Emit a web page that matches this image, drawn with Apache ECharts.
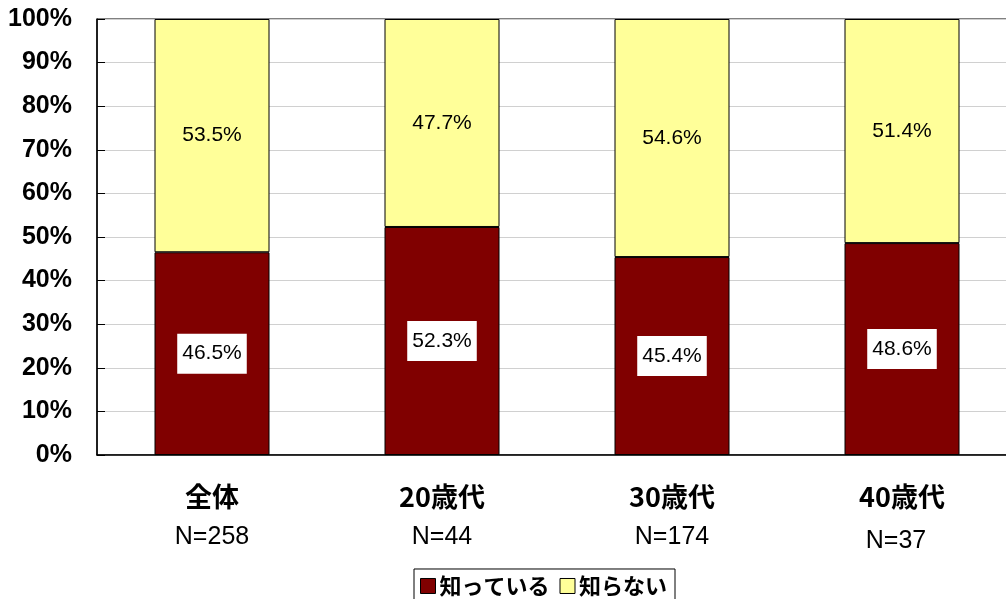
<!DOCTYPE html>
<html>
<head>
<meta charset="utf-8">
<script src="https://cdn.jsdelivr.net/npm/echarts@6/dist/echarts.min.js"></script>
<style>html,body{margin:0;padding:0;background:#fff;}#c{width:1006px;height:599px;}</style>
</head>
<body>
<div id="c"></div>
<script>
const categories = ['全体', '20歳代', '30歳代', '40歳代'];
const sampleSizes = ['N=258', 'N=44', 'N=174', 'N=37'];
const knownValues = [46.5, 52.3, 45.4, 48.6];
const unknownValues = [53.5, 47.7, 54.6, 51.4];
const seriesNames = ['知っている', '知らない'];

const chart = echarts.init(document.getElementById('c'));
const labelFont = '"Liberation Sans", Arial, sans-serif';
const jpFont = '"Noto Sans CJK JP", "Liberation Sans", sans-serif';
chart.setOption({
  animation: false,
  backgroundColor: '#fff',
  grid: { left: 97, top: 19, width: 920, height: 436, outerBoundsMode: 'none', containLabel: false, show: true, borderColor: '#000', borderWidth: 1 },
  legend: {
    bottom: -12, left: 414,
    icon: 'rect',
    itemWidth: 15, itemHeight: 15, itemGap: 10,
    padding: [6, 8, 14, 6],
    borderColor: '#000', borderWidth: 1,
    textStyle: { fontFamily: jpFont, fontWeight: 'bold', fontSize: 22, color: '#000', padding: [0, 0, 0, -1] },
    data: [
      { name: seriesNames[0], itemStyle: { color: '#800000', borderColor: '#000', borderWidth: 1 } },
      { name: seriesNames[1], itemStyle: { color: '#FFFF99', borderColor: '#000', borderWidth: 1 } }
    ]
  },
  xAxis: {
    type: 'category',
    data: categories,
    axisLine: { lineStyle: { color: '#000', width: 1.5 } },
    axisTick: { inside: true, length: 7, lineStyle: { color: '#555' } },
    axisLabel: {
      margin: 21,
      formatter: (v, i) => '{a|' + v + '}\n{' + (i === 3 ? 'c' : 'b') + '|' + sampleSizes[i] + '}',
      rich: {
        a: { fontFamily: jpFont, fontWeight: 'bold', fontSize: 27, lineHeight: 41, color: '#000' },
        b: { fontFamily: '"Liberation Sans", Arial, sans-serif', fontSize: 25, lineHeight: 41, color: '#000' },
        c: { fontFamily: '"Liberation Sans", Arial, sans-serif', fontSize: 25, lineHeight: 41, color: '#000', padding: [8, 12, 0, 0] }
      }
    }
  },
  yAxis: {
    type: 'value', min: 0, max: 100, interval: 10,
    axisLine: { show: true, lineStyle: { color: '#000', width: 1.5 } },
    axisTick: { show: true, inside: true, length: 8, lineStyle: { color: '#000' } },
    splitLine: { lineStyle: { color: '#d0d0d0', width: 1 } },
    axisLabel: {
      margin: 25, color: '#000', fontSize: 25, fontWeight: 'bold',
      fontFamily: '"Liberation Sans", Arial, sans-serif',
      formatter: '{value}%'
    }
  },
  series: [
    {
      name: seriesNames[0], type: 'bar', stack: 'a', barWidth: '50%',
      data: knownValues,
      itemStyle: { color: '#800000', borderColor: '#000', borderWidth: 1 },
      label: {
        show: true, position: 'inside', formatter: p => p.value.toFixed(1) + '%',
        fontFamily: labelFont, fontSize: 21, color: '#000',
        backgroundColor: '#fff', padding: [10, 5, 9, 5]
      }
    },
    {
      name: seriesNames[1], type: 'bar', stack: 'a', barWidth: '50%',
      data: unknownValues,
      itemStyle: { color: '#FFFF99', borderColor: '#000', borderWidth: 1 },
      label: {
        show: true, position: 'inside', formatter: p => p.value.toFixed(1) + '%',
        fontFamily: labelFont, fontSize: 21, color: '#000'
      }
    }
  ]
});
</script>
</body>
</html>
